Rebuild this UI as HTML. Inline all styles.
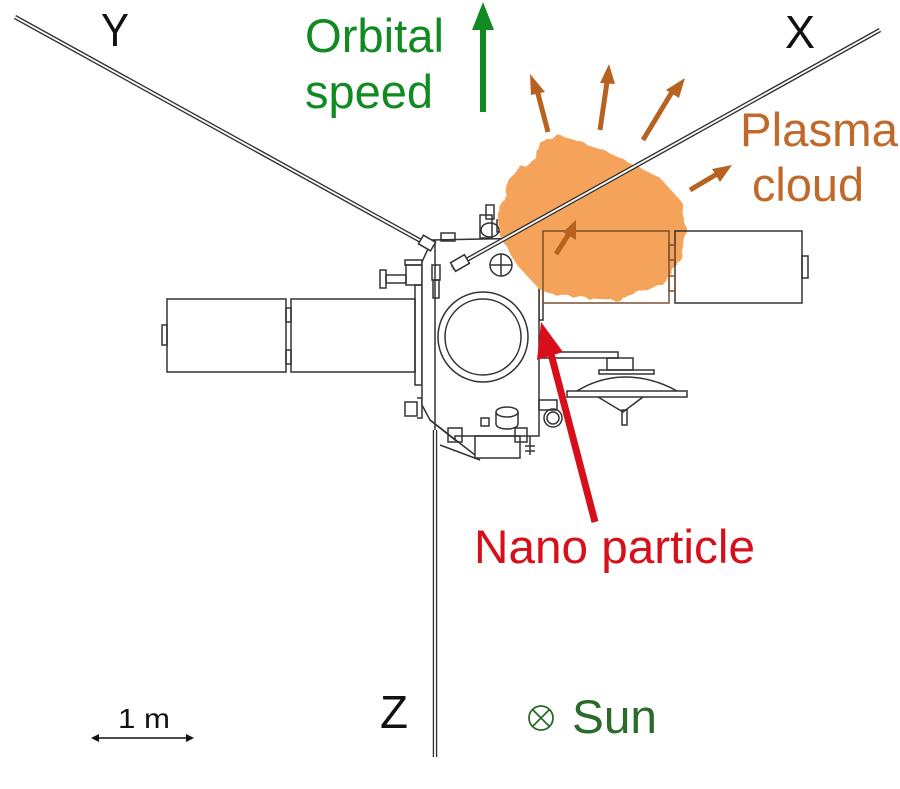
<!DOCTYPE html>
<html><head><meta charset="utf-8"><style>
html,body{margin:0;padding:0;background:#fff;width:900px;height:789px;overflow:hidden}
svg{display:block}
text{font-family:"Liberation Sans",sans-serif}
</style></head><body>
<svg width="900" height="789" viewBox="0 0 900 789" xmlns="http://www.w3.org/2000/svg">
<defs>
<filter id="rough" x="-10%" y="-10%" width="120%" height="120%">
<feTurbulence type="fractalNoise" baseFrequency="0.08" numOctaves="2" result="n"/>
<feDisplacementMap in="SourceGraphic" in2="n" scale="8"/>
</filter>
</defs>
<g fill="none" stroke="#333" stroke-width="1.5">
<line x1="15" y1="17" x2="430" y2="246" stroke-width="4.5"/>
<line x1="15" y1="17" x2="430" y2="246" stroke="#fff" stroke-width="1.8"/>
<line x1="435" y1="430" x2="435" y2="757" stroke-width="4.5"/>
<line x1="435" y1="430" x2="435" y2="757" stroke="#fff" stroke-width="1.8"/>
<rect x="167" y="299" width="119" height="73" fill="#fff"/>
<rect x="291" y="299" width="124" height="73" fill="#fff"/>
<rect x="162" y="325" width="5" height="20"/>
<rect x="286" y="308" width="5" height="14"/>
<rect x="286" y="350" width="5" height="14"/>
<rect x="415" y="285" width="7" height="100"/>
<rect x="380" y="270" width="6" height="18"/>
<rect x="386" y="275" width="20" height="8"/>
<rect x="406" y="265" width="16" height="20"/>
<rect x="405" y="260" width="17" height="5"/>
<rect x="405" y="402" width="12" height="14"/>
<path d="M417 398 L422 398 L422 418 L417 418"/>
<rect x="539" y="240" width="4" height="80"/>
<path d="M422 262 L432 240 L539 238 L539 436 L455 436 L455 440 L430 420 L422 405 Z" fill="#fff"/>
<line x1="435" y1="240" x2="435" y2="430"/>
<line x1="430" y1="420" x2="475" y2="455"/>
<line x1="440" y1="445" x2="480" y2="460"/>
<circle cx="483" cy="337" r="45"/>
<circle cx="483" cy="337" r="38"/>
<circle cx="501" cy="265" r="11"/>
<line x1="490" y1="265" x2="512" y2="265"/>
<line x1="501" y1="254" x2="501" y2="276"/>
<rect x="432" y="265" width="8" height="15"/>
<rect x="433" y="280" width="6" height="18"/>
<rect x="441" y="233" width="14" height="8"/>
<rect x="480" y="215" width="12" height="23"/>
<rect x="486" y="205" width="8" height="14"/>
<ellipse cx="490" cy="230" rx="9" ry="7"/>
<rect x="510" y="228" width="16" height="10"/>
<rect x="497" y="220" width="30" height="12"/>
<ellipse cx="507" cy="412" rx="11" ry="5"/>
<path d="M496 412 L496 424 A11 5 0 0 0 518 424 L518 412"/>
<rect x="481" y="418" width="8" height="8"/>
<rect x="448" y="428" width="14" height="14"/>
<rect x="515" y="428" width="12" height="14"/>
<rect x="475" y="436" width="45" height="22"/>
<line x1="530" y1="436" x2="530" y2="455"/>
<line x1="525" y1="446" x2="535" y2="446"/>
<line x1="525" y1="451" x2="535" y2="451"/>
<circle cx="553" cy="418" r="9"/>
<circle cx="553" cy="418" r="6"/>
<rect x="539" y="400" width="18" height="10"/>
<path d="M539 352 L618 352 L618 358 L539 358"/>
<rect x="607" y="358" width="26" height="12"/>
<rect x="599" y="370" width="55" height="4"/>
<path d="M577 391 Q600 377 625 377 Q652 377 677 391"/>
<rect x="567" y="391" width="120" height="6" fill="#fff"/>
<path d="M598 397 L623 412 L643 397"/>
<rect x="622" y="410" width="5" height="15"/>
</g>
<path filter="url(#rough)" fill="#f5a35a" d="M545 140 L562 136 L590 145 L625 160 L660 178 L680 200 L686 230 L680 262 L660 286 L620 300 L580 298 L540 290 L518 266 L500 236 L498 212 L510 180 L530 160 Z"/>
<g fill="none" stroke="#333" stroke-width="1.5">
<rect x="543" y="231" width="126" height="72" stroke="#7a5030"/>
<rect x="675" y="231" width="127" height="72"/>
<rect x="669" y="245" width="6" height="15" stroke="#7a5030"/>
<rect x="669" y="276" width="6" height="15" stroke="#7a5030"/>
<rect x="802" y="256" width="6" height="22"/>
<line x1="880" y1="30" x2="452" y2="268" stroke-width="4.5"/>
<line x1="880" y1="30" x2="452" y2="268" stroke="#fff" stroke-width="1.8"/>
<rect x="420" y="238" width="14" height="10" transform="rotate(30 427 243)" fill="#fff"/>
<rect x="452" y="258" width="16" height="10" transform="rotate(-30 460 263)" fill="#fff"/>
</g>
<g stroke="#b8621f" stroke-width="5" fill="#b8621f">
<line x1="548" y1="132" x2="537" y2="90"/>
<polygon points="530,74 545,92 531,95" stroke="none"/>
<line x1="600" y1="130" x2="607" y2="82"/>
<polygon points="609,64 615,84 600,83" stroke="none"/>
<line x1="643" y1="140" x2="672" y2="92"/>
<polygon points="685,78 679,98 666,90" stroke="none"/>
<line x1="690" y1="190" x2="717" y2="174"/>
<polygon points="732,165 720,182 712,169" stroke="none"/>
<line x1="556" y1="254" x2="570" y2="232"/>
<polygon points="576,220 576,240 563,232" stroke="none"/>
</g>
<line x1="483" y1="112" x2="483" y2="25" stroke="#128a22" stroke-width="6"/>
<polygon points="483,2 472,30 494,30" fill="#128a22"/>
<line x1="595" y1="522" x2="550" y2="350" stroke="#d60f1a" stroke-width="7"/>
<polygon points="541,322 537,360 563,352" fill="#d60f1a"/>
<line x1="95" y1="738" x2="190" y2="738" stroke="#111" stroke-width="1.5"/>
<polygon points="91,738 99,734 99,742" fill="#111"/>
<polygon points="194,738 186,734 186,742" fill="#111"/>
<text x="101" y="46" font-size="46" fill="#111" textLength="28" lengthAdjust="spacingAndGlyphs">Y</text>
<text x="785" y="48" font-size="46" fill="#111" textLength="30" lengthAdjust="spacingAndGlyphs">X</text>
<text x="380" y="728" font-size="46" fill="#111" textLength="28" lengthAdjust="spacingAndGlyphs">Z</text>
<text x="305" y="52" font-size="47" fill="#128a22" textLength="139" lengthAdjust="spacingAndGlyphs">Orbital</text>
<text x="305" y="108" font-size="47" fill="#128a22" textLength="128" lengthAdjust="spacingAndGlyphs">speed</text>
<text x="740" y="146" font-size="47" fill="#c0692a" textLength="158" lengthAdjust="spacingAndGlyphs">Plasma</text>
<text x="752" y="201" font-size="47" fill="#c0692a" textLength="112" lengthAdjust="spacingAndGlyphs">cloud</text>
<text x="474" y="563" font-size="47" fill="#d60f1a" textLength="281" lengthAdjust="spacingAndGlyphs">Nano particle</text>
<text x="118" y="728" font-size="28" fill="#111" textLength="52" lengthAdjust="spacingAndGlyphs">1 m</text>
<circle cx="541" cy="718" r="12" fill="none" stroke="#2a6a2a" stroke-width="1.8"/>
<line x1="532.5" y1="709.5" x2="549.5" y2="726.5" stroke="#2a6a2a" stroke-width="1.8"/>
<line x1="549.5" y1="709.5" x2="532.5" y2="726.5" stroke="#2a6a2a" stroke-width="1.8"/>
<text x="572" y="733" font-size="47" fill="#2a6a2a" textLength="85" lengthAdjust="spacingAndGlyphs">Sun</text>
</svg>
</body></html>
